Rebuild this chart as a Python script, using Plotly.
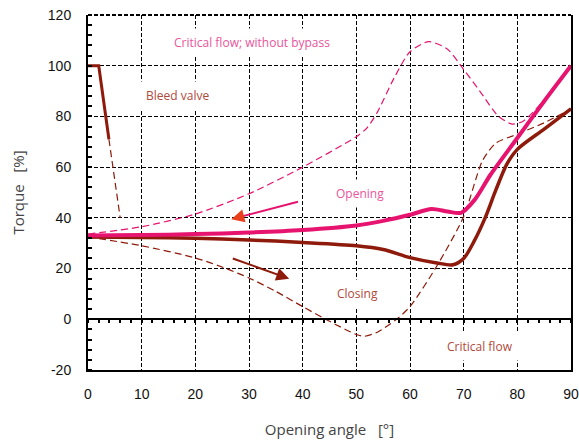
import plotly.graph_objects as go

# ---- data ----
open_x = [0, 10, 20, 30, 40, 50, 55, 60, 64, 67, 69.5, 72, 75, 80, 85, 90]
open_y = [33, 33.2, 33.6, 34.2, 35.2, 37, 38.8, 41.2, 43.5, 42.5, 42, 47, 57, 71.5, 86, 100]

close_x = [0, 10, 20, 30, 40, 50, 55, 60, 65, 68, 70, 72, 74, 76, 78, 80, 85, 90]
close_y = [32.5, 32.3, 32, 31.3, 30.3, 29, 27.5, 24.3, 22.2, 21.5, 24, 31, 40, 51, 61, 67, 75, 83]

nobypass_x = [0, 10, 20, 30, 40, 50, 52, 54, 57, 60, 63.5, 67, 70, 73, 76.5, 79, 81, 85, 90]
nobypass_y = [33.6, 36.5, 41.5, 49.5, 60, 72, 75.5, 82, 95, 105.5, 109.5, 106.5, 98.5, 90, 80, 77, 78, 86.5, 100]

crit_x = [0, 10, 20, 26, 30, 35, 40, 45, 50, 51.5, 54, 57.5, 60, 65, 70, 73.5, 76, 80, 85, 90]
crit_y = [32.5, 29, 24.2, 19.8, 16.3, 11, 5, -0.8, -6, -6.7, -5, 0, 5, 21, 40.5, 62.5, 69.5, 73, 77.5, 83]

bleed_solid_x = [0, 2, 3.9]
bleed_solid_y = [100, 100, 71]
bleed_dash_x = [3.9, 6]
bleed_dash_y = [71, 40]

x_ticks = [0, 10, 20, 30, 40, 50, 60, 70, 80, 90]
y_ticks = [-20, 0, 20, 40, 60, 80, 100, 120]
y_tick_text = ["-20", "0", "20", "40", "60", "80", "100", "120"]

labels = ["Critical flow; without bypass", "Bleed valve", "Opening", "Closing", "Critical flow"]
label_x = [30.5, 16.7, 50.6, 50.2, 73.1]
label_y = [109, 88.1, 49.5, 10.1, -10.9]

open_arrow = [39.4, 46.5, 26.7, 39.5]   # tail x, tail y, head x, head y
close_arrow = [26.7, 24.2, 37.5, 16.0]

PINK = "#e6136f"
BROWN = "#8e1a0b"
PINK_TXT = "#e8559a"
BROWN_TXT = "#b04a3c"

fig = go.Figure()

fig.add_trace(go.Scatter(x=nobypass_x, y=nobypass_y, mode="lines",
                         line=dict(color=PINK, width=1.2, dash="7px,4px", shape="spline", smoothing=0.7)))
fig.add_trace(go.Scatter(x=crit_x, y=crit_y, mode="lines",
                         line=dict(color=BROWN, width=1.2, dash="7px,4px", shape="spline", smoothing=0.7)))
fig.add_trace(go.Scatter(x=bleed_dash_x, y=bleed_dash_y, mode="lines",
                         line=dict(color=BROWN, width=1.2, dash="7px,4px")))
fig.add_trace(go.Scatter(x=bleed_solid_x, y=bleed_solid_y, mode="lines",
                         line=dict(color=BROWN, width=3)))
fig.add_trace(go.Scatter(x=close_x, y=close_y, mode="lines",
                         line=dict(color=BROWN, width=3.5, shape="spline", smoothing=0.8)))
fig.add_trace(go.Scatter(x=open_x, y=open_y, mode="lines",
                         line=dict(color=PINK, width=4, shape="spline", smoothing=0.8)))
# invisible trace for the zero-line tick axis
fig.add_trace(go.Scatter(x=[0, 90], y=[0, 0], xaxis="x2", mode="lines",
                         line=dict(width=0), hoverinfo="skip"))

annos = []
for t, xx, yy, c in zip(labels, label_x, label_y,
                        [PINK_TXT, BROWN_TXT, PINK_TXT, BROWN_TXT, BROWN_TXT]):
    annos.append(dict(x=xx, y=yy, xref="x", yref="y", text=t, showarrow=False,
                      font=dict(family="Open Sans", size=12, color=c),
                      bgcolor="white", borderpad=5))

# arrows
annos.append(dict(x=open_arrow[2], y=open_arrow[3], ax=open_arrow[0], ay=open_arrow[1],
                  xref="x", yref="y", axref="x", ayref="y", text="", showarrow=True,
                  arrowhead=0, arrowwidth=2, arrowcolor=PINK, standoff=3))
annos.append(dict(x=open_arrow[2], y=open_arrow[3], ax=open_arrow[2] + 2.2, ay=open_arrow[3] + 1.2,
                  xref="x", yref="y", axref="x", ayref="y", text="", showarrow=True,
                  arrowhead=2, arrowsize=1.3, arrowwidth=2, arrowcolor="#e8401c"))
annos.append(dict(x=close_arrow[2], y=close_arrow[3], ax=close_arrow[0], ay=close_arrow[1],
                  xref="x", yref="y", axref="x", ayref="y", text="", showarrow=True,
                  arrowhead=2, arrowsize=1.3, arrowwidth=2, arrowcolor=BROWN))

shapes = [dict(type="line", xref="paper", yref="paper", x0=0, x1=1, y0=1, y1=1,
               line=dict(color="black", width=2, dash="4px,2px"))]

fig.update_layout(
    width=579, height=444,
    margin=dict(l=88, r=8, t=15, b=74),
    plot_bgcolor="white", paper_bgcolor="white",
    showlegend=False,
    annotations=annos, shapes=shapes,
    xaxis=dict(range=[0, 90], tickvals=x_ticks, showgrid=True, gridcolor="black",
               griddash="4px,2px", gridwidth=1, showline=True, linecolor="black", linewidth=2,
               ticks="", ticklabelstandoff=10, zeroline=False, automargin=False,
               ticklabeloverflow="allow",
               tickfont=dict(family="Liberation Sans", size=14, color="#111"),
               title=dict(text="Opening angle   [°]", standoff=24,
                          font=dict(family="Open Sans", size=15, color="#444"))),
    xaxis2=dict(range=[0, 90], overlaying="x", anchor="free", position=20 / 140,
                side="bottom", showgrid=False, showline=True, linecolor="black", linewidth=1.5,
                ticks="outside", dtick=2, ticklen=3, tickwidth=1.5, tickcolor="black",
                showticklabels=False, zeroline=False, automargin=False),
    yaxis=dict(range=[-20, 120], tickvals=y_ticks, ticktext=y_tick_text, showgrid=True,
               gridcolor="black", griddash="4px,2px", gridwidth=1, showline=True, mirror=True,
               linecolor="black", linewidth=2, ticks="", zeroline=False, automargin=False,
               ticklabelstandoff=12, ticklabeloverflow="allow",
               minor=dict(dtick=4, ticks="inside", ticklen=4, tickcolor="black", tickwidth=1.5,
                          showgrid=False),
               tickfont=dict(family="Liberation Sans", size=14, color="#111"),
               title=dict(text="Torque   [%]", standoff=20,
                          font=dict(family="Open Sans", size=15, color="#444"))),
)

# remove the page's default 8px body margin so the figure fills the window
fig.write_html("out.html", config={"displayModeBar": False},
               post_script="document.body.style.margin='0';document.body.style.overflow='hidden';")
